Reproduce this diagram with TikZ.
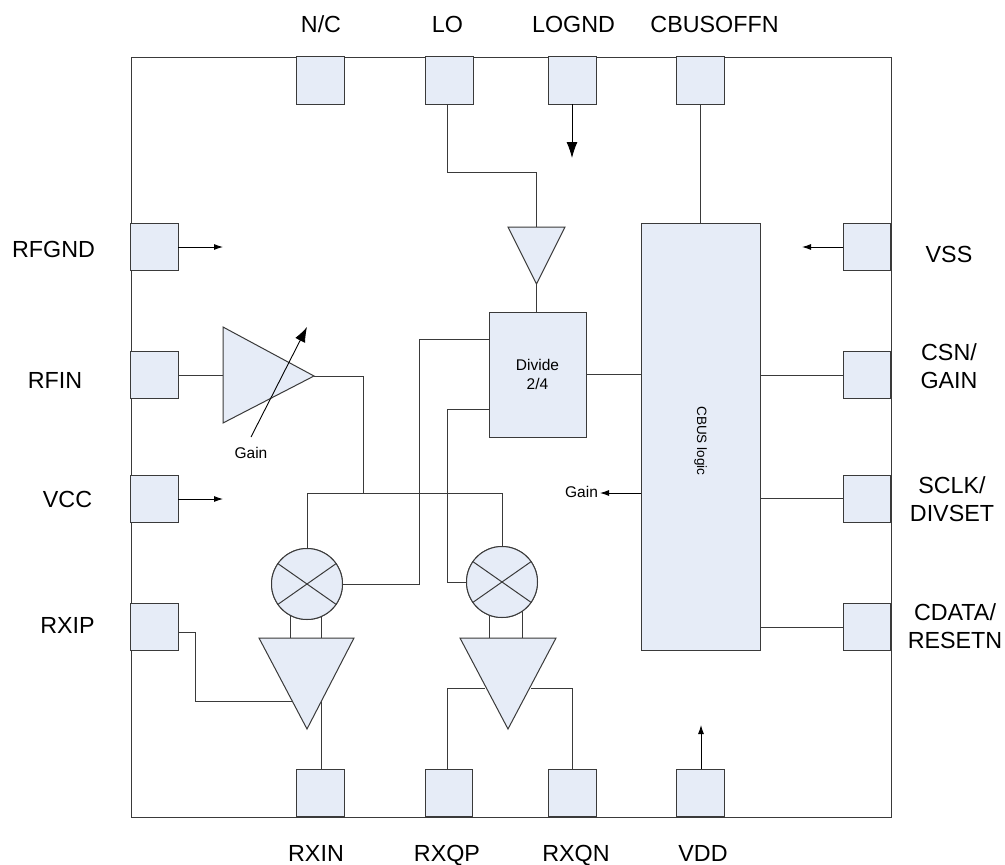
\documentclass[tikz,border=0pt]{standalone}
\usepackage{fontspec}
\setmainfont{Liberation Sans}
\newcommand{\lblfont}{\fontsize{23.3}{28}\selectfont}
\newcommand{\smlfont}{\fontsize{15.5}{19}\selectfont}
\definecolor{blockfill}{HTML}{E6ECF7}
\definecolor{wirecol}{HTML}{3A3A3A}
\tikzset{
  pad/.style={draw=wirecol,fill=blockfill,line width=1pt,rectangle,minimum width=47.5pt,minimum height=47.5pt,inner sep=0pt,outer sep=0pt},
  blockbox/.style={draw=wirecol,fill=blockfill,line width=1pt,rectangle,inner sep=0pt,outer sep=0pt,align=center,font=\smlfont},
  mixer/.style={draw=wirecol,fill=blockfill,line width=1pt,circle,minimum size=71pt,inner sep=0pt,outer sep=0pt},
  tri/.style={draw=wirecol,fill=blockfill,line width=1pt,line join=miter},
  wire/.style={draw=wirecol,line width=1pt},
  flow/.style={draw=black,line width=0.9pt,-{Latex[length=9pt,width=6pt]}},
  lbl/.style={font=\lblfont,align=center,inner sep=0pt},
  sml/.style={font=\smlfont,align=center,inner sep=0pt}
}
\usetikzlibrary{arrows.meta,calc}
\begin{document}
\begin{tikzpicture}[x=1pt,y=-1pt]
\useasboundingbox (0,0) rectangle (1005,865);
\node[draw=wirecol,line width=1pt,fill=white,rectangle,minimum width=760pt,minimum height=760pt,inner sep=0pt,outer sep=0pt] (chip) at (511,437) {};
% pads
\node[pad] (nc) at (320.5,80.5) {};
\node[pad] (lo) at (449.5,80.5) {};
\node[pad] (logndp) at (572.5,80.5) {};
\node[pad] (cbusoff) at (700.5,80.5) {};
\node[pad] (rfgndp) at (154.5,247) {};
\node[pad] (rfinp) at (154.5,375) {};
\node[pad] (vccp) at (154.5,499) {};
\node[pad] (rxipp) at (154.5,627) {};
\node[pad] (vssp) at (867,247) {};
\node[pad] (csnp) at (867,375) {};
\node[pad] (sclkp) at (867,499) {};
\node[pad] (cdatap) at (867,627) {};
\node[pad] (rxinp) at (320.5,793) {};
\node[pad] (rxqpp) at (449,793) {};
\node[pad] (rxqnp) at (572.5,793) {};
\node[pad] (vddp) at (700.5,793) {};
% blocks
\node[blockbox,minimum width=97pt,minimum height=125pt] (divide) at (537.5,374.5) {Divide\\2/4};
\node[blockbox,minimum width=119.5pt,minimum height=427pt] (cbus) at (700.75,436.5) {};
\node[inner sep=0pt,font=\fontsize{13.5}{16}\selectfont,rotate=-90] (cbustext) at (700.5,441) {CBUS logic};
\node[mixer] (mixa) at (307,584) {};
\node[mixer] (mixb) at (502,582) {};
% triangle vertices
\coordinate (ampa) at (223,327); \coordinate (ampb) at (223,423); \coordinate (ampo) at (314,376);
\coordinate (loa) at (508,227); \coordinate (lob) at (565,227); \coordinate (loo) at (536.5,284);
\coordinate (ta) at (259,638); \coordinate (tb) at (354,638); \coordinate (to) at (307,729);
\coordinate (ua) at (460,638); \coordinate (ub) at (556,638); \coordinate (uo) at (508,729);
% junctions and free ends
\coordinate (busj) at (363,493);
\coordinate (gaintip) at (307,327); \coordinate (gaintail) at (251,437);
\coordinate (rfgndend) at (223,247); \coordinate (vccend) at (223,499);
\coordinate (vssend) at (802,247); \coordinate (vddend) at (701,725);
\coordinate (logndend) at (572,158); \coordinate (gainend) at (600,493);
% connectors under triangles
\draw[wire] (rfinp.east) -- (ampa |- rfinp.east);
\draw[wire] (ampo) -- (busj |- ampo) -- (busj);
\draw[wire] (mixa.north) -- (mixa.north |- busj) -- (mixb.north |- busj) -- (mixb.north);
\draw[wire] ([yshift=35pt]divide.west) -- ++(-70,0) |- (mixa.east);
\draw[wire] ([yshift=-35pt]divide.west) -- ++(-42,0) |- (mixb.west);
\draw[wire] (lo.south -| 447,0) -- (447,172) -- (536.5,172) -- (536.5,227);
\draw[wire] (loo) -- (loo |- divide.north);
\draw[wire] (cbusoff.south) -- (cbusoff.south |- cbus.north);
\draw[wire] (divide.east) -- (divide.east -| cbus.west);
\draw[wire] (csnp.west) -- (csnp.west -| cbus.east);
\draw[wire] ([yshift=1pt]sclkp.west) -- ([yshift=1pt]sclkp.west -| cbus.east);
\draw[wire] (cdatap.west) -- (cdatap.west -| cbus.east);
\draw[wire] (290,600) -- (290,638);
\draw[wire] (321,600) -- (321,638);
\draw[wire] (489,600) -- (489,638);
\draw[wire] (522,600) -- (522,638);
\draw[wire] (rxipp.east |- 0,632) -- (195,632) -- (195,701) -- (292,701);
\draw[wire] (321,700) -- (321,769);
\draw[wire] (rxqpp.north -| 447,0) -- (447,688) -- (485,688);
\draw[wire] (rxqnp.north -| 572,0) -- (572,688) -- (531,688);
% triangles
\draw[tri] (ampa) -- (ampb) -- (ampo) -- cycle;
\draw[tri] (loa) -- (lob) -- (loo) -- cycle;
\draw[tri] (ta) -- (tb) -- (to) -- cycle;
\draw[tri] (ua) -- (ub) -- (uo) -- cycle;
% mixer crosses, over the stubs
\node[mixer] (mixa2) at (mixa) {};
\node[mixer] (mixb2) at (mixb) {};
\draw[wire] (mixa2.145) -- (mixa2.-35);
\draw[wire] (mixa2.35) -- (mixa2.215);
\draw[wire] (mixb2.145) -- (mixb2.-35);
\draw[wire] (mixb2.35) -- (mixb2.215);
% arrows
\draw[draw=black,line width=0.9pt,-{Latex[length=15pt,width=11pt]}] (gaintail) -- (gaintip);
\draw[draw=black,line width=0.9pt,-{Latex[length=16pt,width=11pt]}] (logndp.south -| logndend) -- (logndend);
\draw[flow] (rfgndp.east) -- (rfgndend);
\draw[flow] (vccp.east) -- (vccend);
\draw[flow] (vssp.west) -- (vssend);
\draw[flow] (vddp.north -| vddend) -- (vddend);
\draw[flow] (cbus.west |- gainend) -- (gainend);
% labels
\node[sml,anchor=base] (gaina) at (251,458) {Gain};
\node[sml,anchor=base] (gainb) at (581.5,497) {Gain};
\node[lbl,anchor=base] (t1) at (321,32) {N/C};
\node[lbl,anchor=base] (t2) at (447.5,32) {LO};
\node[lbl,anchor=base] (t3) at (573.5,32.5) {LOGND};
\node[lbl,anchor=base] (t4) at (714.5,32.5) {CBUSOFFN};
\node[lbl,anchor=base] (t5) at (53.5,257) {RFGND};
\node[lbl,anchor=base] (t6) at (55,388) {RFIN};
\node[lbl,anchor=base] (t7) at (67.5,507) {VCC};
\node[lbl,anchor=base] (t8) at (67.5,633) {RXIP};
\node[lbl,anchor=base] (t9) at (949,262) {VSS};
\node[lbl] (t10) at (949,366.5) {CSN/\\GAIN};
\node[lbl] (t11) at (952,499.5) {SCLK/\\DIVSET};
\node[lbl] (t12) at (955,626) {CDATA/\\RESETN};
\node[lbl,anchor=base] (t13) at (316,861.5) {RXIN};
\node[lbl,anchor=base] (t14) at (447,861.5) {RXQP};
\node[lbl,anchor=base] (t15) at (576,861.5) {RXQN};
\node[lbl,anchor=base] (t16) at (703,861.5) {VDD};
\end{tikzpicture}
\end{document}
